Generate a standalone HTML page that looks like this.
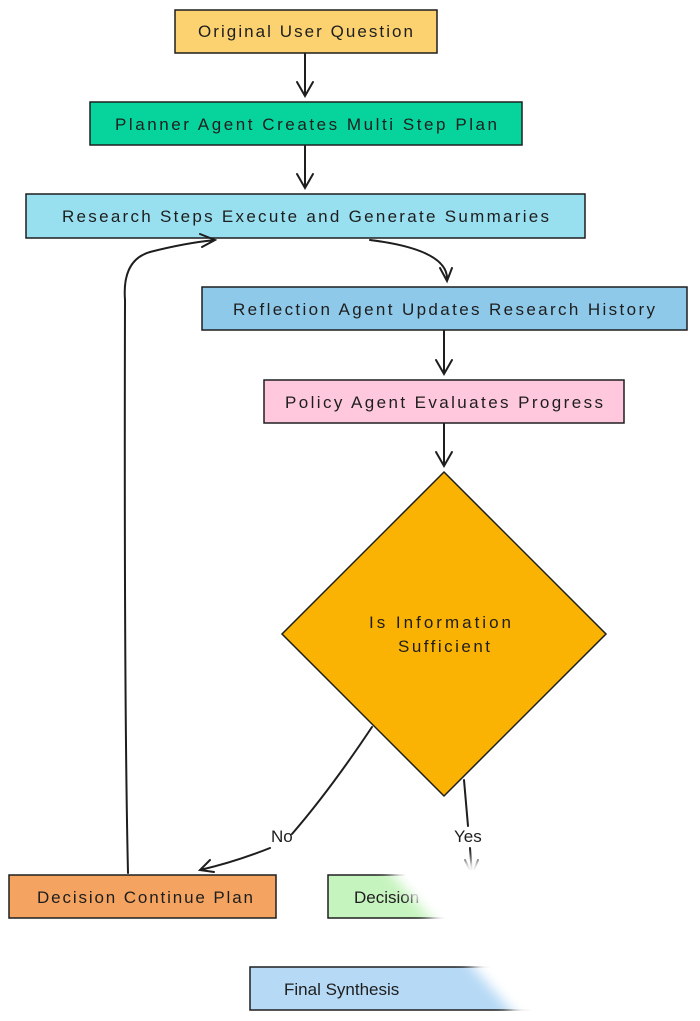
<!DOCTYPE html>
<html><head><meta charset="utf-8"><style>
html,body{margin:0;padding:0;background:#fff;}
svg{display:block}
text{font-family:"Liberation Sans",sans-serif;font-size:17px;fill:#1e1e1e;}
</style></head><body>
<svg width="700" height="1021" viewBox="0 0 700 1021" xmlns="http://www.w3.org/2000/svg">
<defs>
<linearGradient id="fadeG" x1="0" y1="0" x2="1" y2="0.9">
<stop offset="0" stop-color="#fff" stop-opacity="0"/>
<stop offset="0.25" stop-color="#fff" stop-opacity="1"/>
</linearGradient>
<filter id="blur"><feGaussianBlur stdDeviation="6"/></filter>
</defs>
<g stroke="#1e1e1e" stroke-width="1.5">
<rect x="175" y="10" width="262" height="43" fill="#fcd271"/>
<rect x="90" y="102" width="432" height="43" fill="#07d49c"/>
<rect x="26" y="194" width="559" height="44" fill="#98e0f0"/>
<rect x="202" y="287" width="485" height="43" fill="#8ec9e9"/>
<rect x="264" y="380" width="360" height="43" fill="#ffc8dc"/>
<polygon points="444,472 606,634 444,796 282,634" fill="#fbb303"/>
<rect x="9" y="875" width="267" height="43" fill="#f4a460"/>
<rect x="328" y="875" width="180" height="43" fill="#c6f4be"/>
<rect x="250" y="967" width="300" height="43" fill="#b6d9f5"/>
</g>
<text x="198" y="37" textLength="215">Original User Question</text>
<text x="115" y="130" textLength="382">Planner Agent Creates Multi Step Plan</text>
<text x="62" y="222" textLength="487">Research Steps Execute and Generate Summaries</text>
<text x="233" y="315" textLength="422">Reflection Agent Updates Research History</text>
<text x="285" y="408" textLength="318">Policy Agent Evaluates Progress</text>
<text x="369" y="628" textLength="142">Is Information</text>
<text x="398" y="652" textLength="92">Sufficient</text>
<text x="37" y="903" textLength="216">Decision Continue Plan</text>
<text x="354" y="903">Decision</text>
<text x="284" y="995">Final Synthesis</text>
<g fill="none" stroke="#1e1e1e" stroke-width="2" stroke-linecap="round">
<path d="M305 54 L305 96 M297 82 L305 96 L313 82"/>
<path d="M305 146 L305 188 M297 174 L305 188 L313 174"/>
<path d="M370 240 Q450 250 447 281 M440 268 L447 281 L452 268"/>
<path d="M444 331 L444 374 M436 360 L444 374 L452 360"/>
<path d="M444 424 L444 466 M436 452 L444 466 L452 452"/>
<path d="M372 727 Q330 790 292 834 M270 848 Q235 862 200 870 M210 860 L200 870 L214 872"/>
<path d="M464 780 L468 826 M470 848 L472 875 M465 860 L472 875 L478 860"/>
<path d="M128 873 Q124 700 125 300 Q122 260 150 252 Q185 243 215 240 M200 234 L215 240 L202 247"/>
</g>
<text x="271" y="842" font-size="15">No</text>
<text x="454" y="842" font-size="15">Yes</text>
<polygon points="380,860 700,860 700,1021 520,1021" fill="#fff" filter="url(#blur)"/>
<polygon points="400,870 700,870 700,1021 540,1021" fill="#fff"/>
</svg>
</body></html>
